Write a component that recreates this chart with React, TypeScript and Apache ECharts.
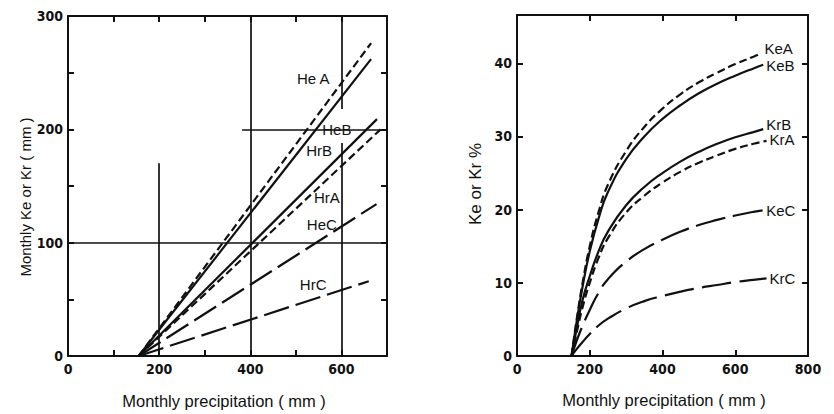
import React, { useEffect, useRef } from "react";
import * as echarts from "echarts";

// ---------- Left panel: monthly Ke / Kr (mm) vs monthly precipitation ----------
const HeA: [number, number][] = [[155, 0], [665, 276]];
const HeB: [number, number][] = [[155, 0], [665, 262]];
const HrB: [number, number][] = [[155, 0], [678, 209]];
const HrA: [number, number][] = [[155, 0], [686, 200]];
const HeC: [number, number][] = [[155, 0], [677, 134]];
const HrC: [number, number][] = [[155, 0], [660, 66]];

// label anchors (data coordinates)
const leftLabels: { name: string; x: number; y: number }[] = [
  { name: "He A", x: 538, y: 245 },
  { name: "HeB", x: 590, y: 200 },
  { name: "HrB", x: 551, y: 181 },
  { name: "HrA", x: 568, y: 140 },
  { name: "HeC", x: 557, y: 116 },
  { name: "HrC", x: 538, y: 63 },
];

// reference lines drawn on the left panel: [x, yFrom, yTo] and [y, xFrom, xTo]
const refVertical: [number, number, number][] = [
  [200, 0, 170],
  [400, 0, 300],
  [600, 0, 188],
  [600, 218, 300],
];
const refHorizontal: [number, number, number][] = [
  [100, 0, 700],
  [200, 382, 700],
];

// ---------- Right panel: Ke / Kr % vs monthly precipitation ----------
const KeA: [number, number][] = [
  [150, 0], [165, 5.3], [180, 9.9], [200, 15.0], [225, 19.8], [250, 23.4],
  [300, 28.0], [350, 31.3], [400, 33.8], [450, 35.8], [500, 37.4], [550, 38.7],
  [600, 39.9], [650, 40.9], [672, 41.4],
];
const KeB: [number, number][] = [
  [150, 0], [165, 5.0], [180, 9.4], [200, 14.3], [225, 18.9], [250, 22.4],
  [300, 26.9], [350, 30.0], [400, 32.4], [450, 34.3], [500, 35.9], [550, 37.2],
  [600, 38.3], [650, 39.3], [677, 39.8],
];
const KrB: [number, number][] = [
  [150, 0], [165, 4.0], [180, 7.6], [200, 10.9], [225, 14.4], [250, 17.0],
  [300, 20.6], [350, 23.1], [400, 25.0], [450, 26.6], [500, 27.9], [550, 29.0],
  [600, 29.9], [650, 30.6], [677, 31.0],
];
const KrA: [number, number][] = [
  [150, 0], [165, 3.4], [180, 6.6], [200, 10.0], [225, 13.5], [250, 16.1],
  [300, 19.6], [350, 21.9], [400, 23.7], [450, 25.2], [500, 26.4], [550, 27.4],
  [600, 28.3], [650, 29.0], [686, 29.4],
];
const KeC: [number, number][] = [
  [150, 0], [165, 2.2], [180, 4.1], [200, 6.3], [225, 8.7], [250, 10.5], [300, 12.9],
  [350, 14.6], [400, 15.9], [450, 17.0], [500, 17.9], [550, 18.6], [600, 19.2],
  [650, 19.7], [677, 19.9],
];
const KrC: [number, number][] = [
  [150, 0], [165, 1.0], [180, 1.9], [200, 3.0], [225, 4.2], [250, 5.1], [300, 6.5],
  [350, 7.5], [400, 8.2], [450, 8.8], [500, 9.3], [550, 9.7], [600, 10.1],
  [650, 10.4], [686, 10.6],
];

const TICK_FONT = "'DejaVu Sans Condensed', 'Liberation Sans Narrow', 'DejaVu Sans', sans-serif";
const TEXT_FONT = "'Liberation Sans', Arial, sans-serif";
const BLACK = "#111";

const SHORT_DASH = [8, 4];
const LONG_DASH_L = [26, 7];
const LONG_DASH_R = [30, 8];

// vertical offsets of the right-panel end labels (pixels)
const rightLabelOffset: Record<string, number> = {
  KeA: -5,
  KeB: 1,
  KrB: -5,
  KrA: -1,
  KeC: 0,
  KrC: 0,
};

function mkAxis(extra: any) {
  return {
    type: "value",
    axisLine: { show: true, onZero: false, lineStyle: { color: BLACK, width: 2 } },
    axisTick: { show: true, inside: true, length: 6, lineStyle: { color: BLACK, width: 2 } },
    splitLine: { show: false },
    axisLabel: {
      show: true,
      color: BLACK,
      fontFamily: TICK_FONT,
      fontWeight: "bold",
      fontSize: 14,
      margin: 5,
    },
    ...extra,
  };
}

export default function App() {
  const ref = useRef<HTMLDivElement>(null);

  useEffect(() => {
    if (!ref.current) return;
    const chart = echarts.init(ref.current, undefined, { renderer: "svg" });

    const leftLine = (name: string, data: [number, number][], dash: any, withRefs = false) => {
      const lbl = leftLabels.find((l) => l.name === name);
      const s: any = {
        name,
        type: "line",
        xAxisIndex: 0,
        yAxisIndex: 0,
        data,
        symbol: "none",
        showSymbol: false,
        lineStyle: { color: BLACK, width: 2.2, type: dash },
        z: 3,
        markPoint: lbl
          ? {
              symbol: "circle",
              symbolSize: 0,
              silent: true,
              label: {
                show: true,
                formatter: name,
                color: BLACK,
                fontFamily: TEXT_FONT,
                fontSize: 15,
                position: "inside",
              },
              data: [{ coord: [lbl.x, lbl.y] }],
            }
          : undefined,
      };
      if (withRefs) {
        s.markLine = {
          silent: true,
          symbol: ["none", "none"],
          label: { show: false },
          lineStyle: { color: BLACK, width: 1.7, type: "solid" },
          data: [
            ...refVertical.map(([x, y0, y1]) => [{ coord: [x, y0] }, { coord: [x, y1] }]),
            ...refHorizontal.map(([y, x0, x1]) => [{ coord: [x0, y] }, { coord: [x1, y] }]),
          ],
        };
      }
      return s;
    };

    const rightLine = (name: string, data: [number, number][], dash: any) => ({
      name,
      type: "line",
      xAxisIndex: 2,
      yAxisIndex: 2,
      data,
      symbol: "none",
      showSymbol: false,
      smooth: true,
      lineStyle: { color: BLACK, width: 2.2, type: dash },
      endLabel: {
        show: true,
        formatter: "{a}",
        distance: 3,
        offset: [0, rightLabelOffset[name] || 0],
        color: BLACK,
        fontFamily: TEXT_FONT,
        fontSize: 15,
      },
    });

    chart.setOption({
      animation: false,
      backgroundColor: "#fff",
      grid: [
        { left: 68, top: 16, width: 319, height: 340, containLabel: false },
        { left: 517, top: 15, width: 291, height: 341, containLabel: false },
      ],
      xAxis: [
        mkAxis({
          gridIndex: 0,
          position: "bottom",
          min: 0,
          max: 700,
          interval: 100,
          axisLabel: {
            color: BLACK,
            fontFamily: TICK_FONT,
            fontWeight: "bold",
            fontSize: 14,
            margin: 6,
            formatter: (v: number) => (v % 200 === 0 ? String(v) : ""),
          },
        }),
        mkAxis({
          gridIndex: 0,
          position: "top",
          min: 0,
          max: 700,
          interval: 100,
          axisLabel: { show: false },
        }),
        mkAxis({
          gridIndex: 1,
          position: "bottom",
          min: 0,
          max: 800,
          interval: 200,
          axisLabel: {
            color: BLACK,
            fontFamily: TICK_FONT,
            fontWeight: "bold",
            fontSize: 14,
            margin: 6,
          },
        }),
        mkAxis({
          gridIndex: 1,
          position: "top",
          min: 0,
          max: 800,
          interval: 200,
          axisLabel: { show: false },
        }),
      ],
      yAxis: [
        mkAxis({
          gridIndex: 0,
          position: "left",
          min: 0,
          max: 300,
          interval: 50,
          axisLabel: {
            color: BLACK,
            fontFamily: TICK_FONT,
            fontWeight: "bold",
            fontSize: 14,
            margin: 5,
            formatter: (v: number) => (v % 100 === 0 ? String(v) : ""),
          },
        }),
        mkAxis({
          gridIndex: 0,
          position: "right",
          min: 0,
          max: 300,
          interval: 50,
          axisLabel: { show: false },
        }),
        mkAxis({
          gridIndex: 1,
          position: "left",
          min: 0,
          max: 46.6,
          interval: 10,
          axisLabel: {
            color: BLACK,
            fontFamily: TICK_FONT,
            fontWeight: "bold",
            fontSize: 14,
            margin: 5,
            showMaxLabel: false,
            formatter: (v: number) => (v % 10 === 0 ? String(v) : ""),
          },
        }),
        mkAxis({
          gridIndex: 1,
          position: "right",
          min: 0,
          max: 46.6,
          interval: 10,
          axisLabel: { show: false },
        }),
      ],
      graphic: [
        {
          type: "text",
          x: 25,
          y: 197,
          rotation: Math.PI / 2,
          style: {
            text: "Monthly Ke or Kr ( mm )",
            fill: BLACK,
            fontFamily: TEXT_FONT,
            fontSize: 15,
            align: "center",
            verticalAlign: "middle",
          },
        },
        {
          type: "text",
          x: 224,
          y: 401,
          style: {
            text: "Monthly precipitation ( mm )",
            fill: BLACK,
            fontFamily: TEXT_FONT,
            fontSize: 16.5,
            align: "center",
            verticalAlign: "middle",
          },
        },
        {
          type: "text",
          x: 475,
          y: 184,
          rotation: Math.PI / 2,
          style: {
            text: "Ke or Kr %",
            fill: BLACK,
            fontFamily: TEXT_FONT,
            fontSize: 17,
            align: "center",
            verticalAlign: "middle",
          },
        },
        {
          type: "text",
          x: 664,
          y: 400,
          style: {
            text: "Monthly precipitation ( mm )",
            fill: BLACK,
            fontFamily: TEXT_FONT,
            fontSize: 16.5,
            align: "center",
            verticalAlign: "middle",
          },
        },
      ],
      series: [
        leftLine("He A", HeA, SHORT_DASH, true),
        leftLine("HeB", HeB, "solid"),
        leftLine("HrB", HrB, "solid"),
        leftLine("HrA", HrA, SHORT_DASH),
        leftLine("HeC", HeC, LONG_DASH_L),
        leftLine("HrC", HrC, LONG_DASH_L),
        rightLine("KeA", KeA, SHORT_DASH),
        rightLine("KeB", KeB, "solid"),
        rightLine("KrB", KrB, "solid"),
        rightLine("KrA", KrA, SHORT_DASH),
        rightLine("KeC", KeC, LONG_DASH_R),
        rightLine("KrC", KrC, LONG_DASH_R),
      ],
    });

    return () => chart.dispose();
  }, []);

  return (
    <div
      ref={ref}
      style={{ position: "absolute", left: 0, top: 0, width: 834, height: 414, background: "#fff" }}
    />
  );
}
